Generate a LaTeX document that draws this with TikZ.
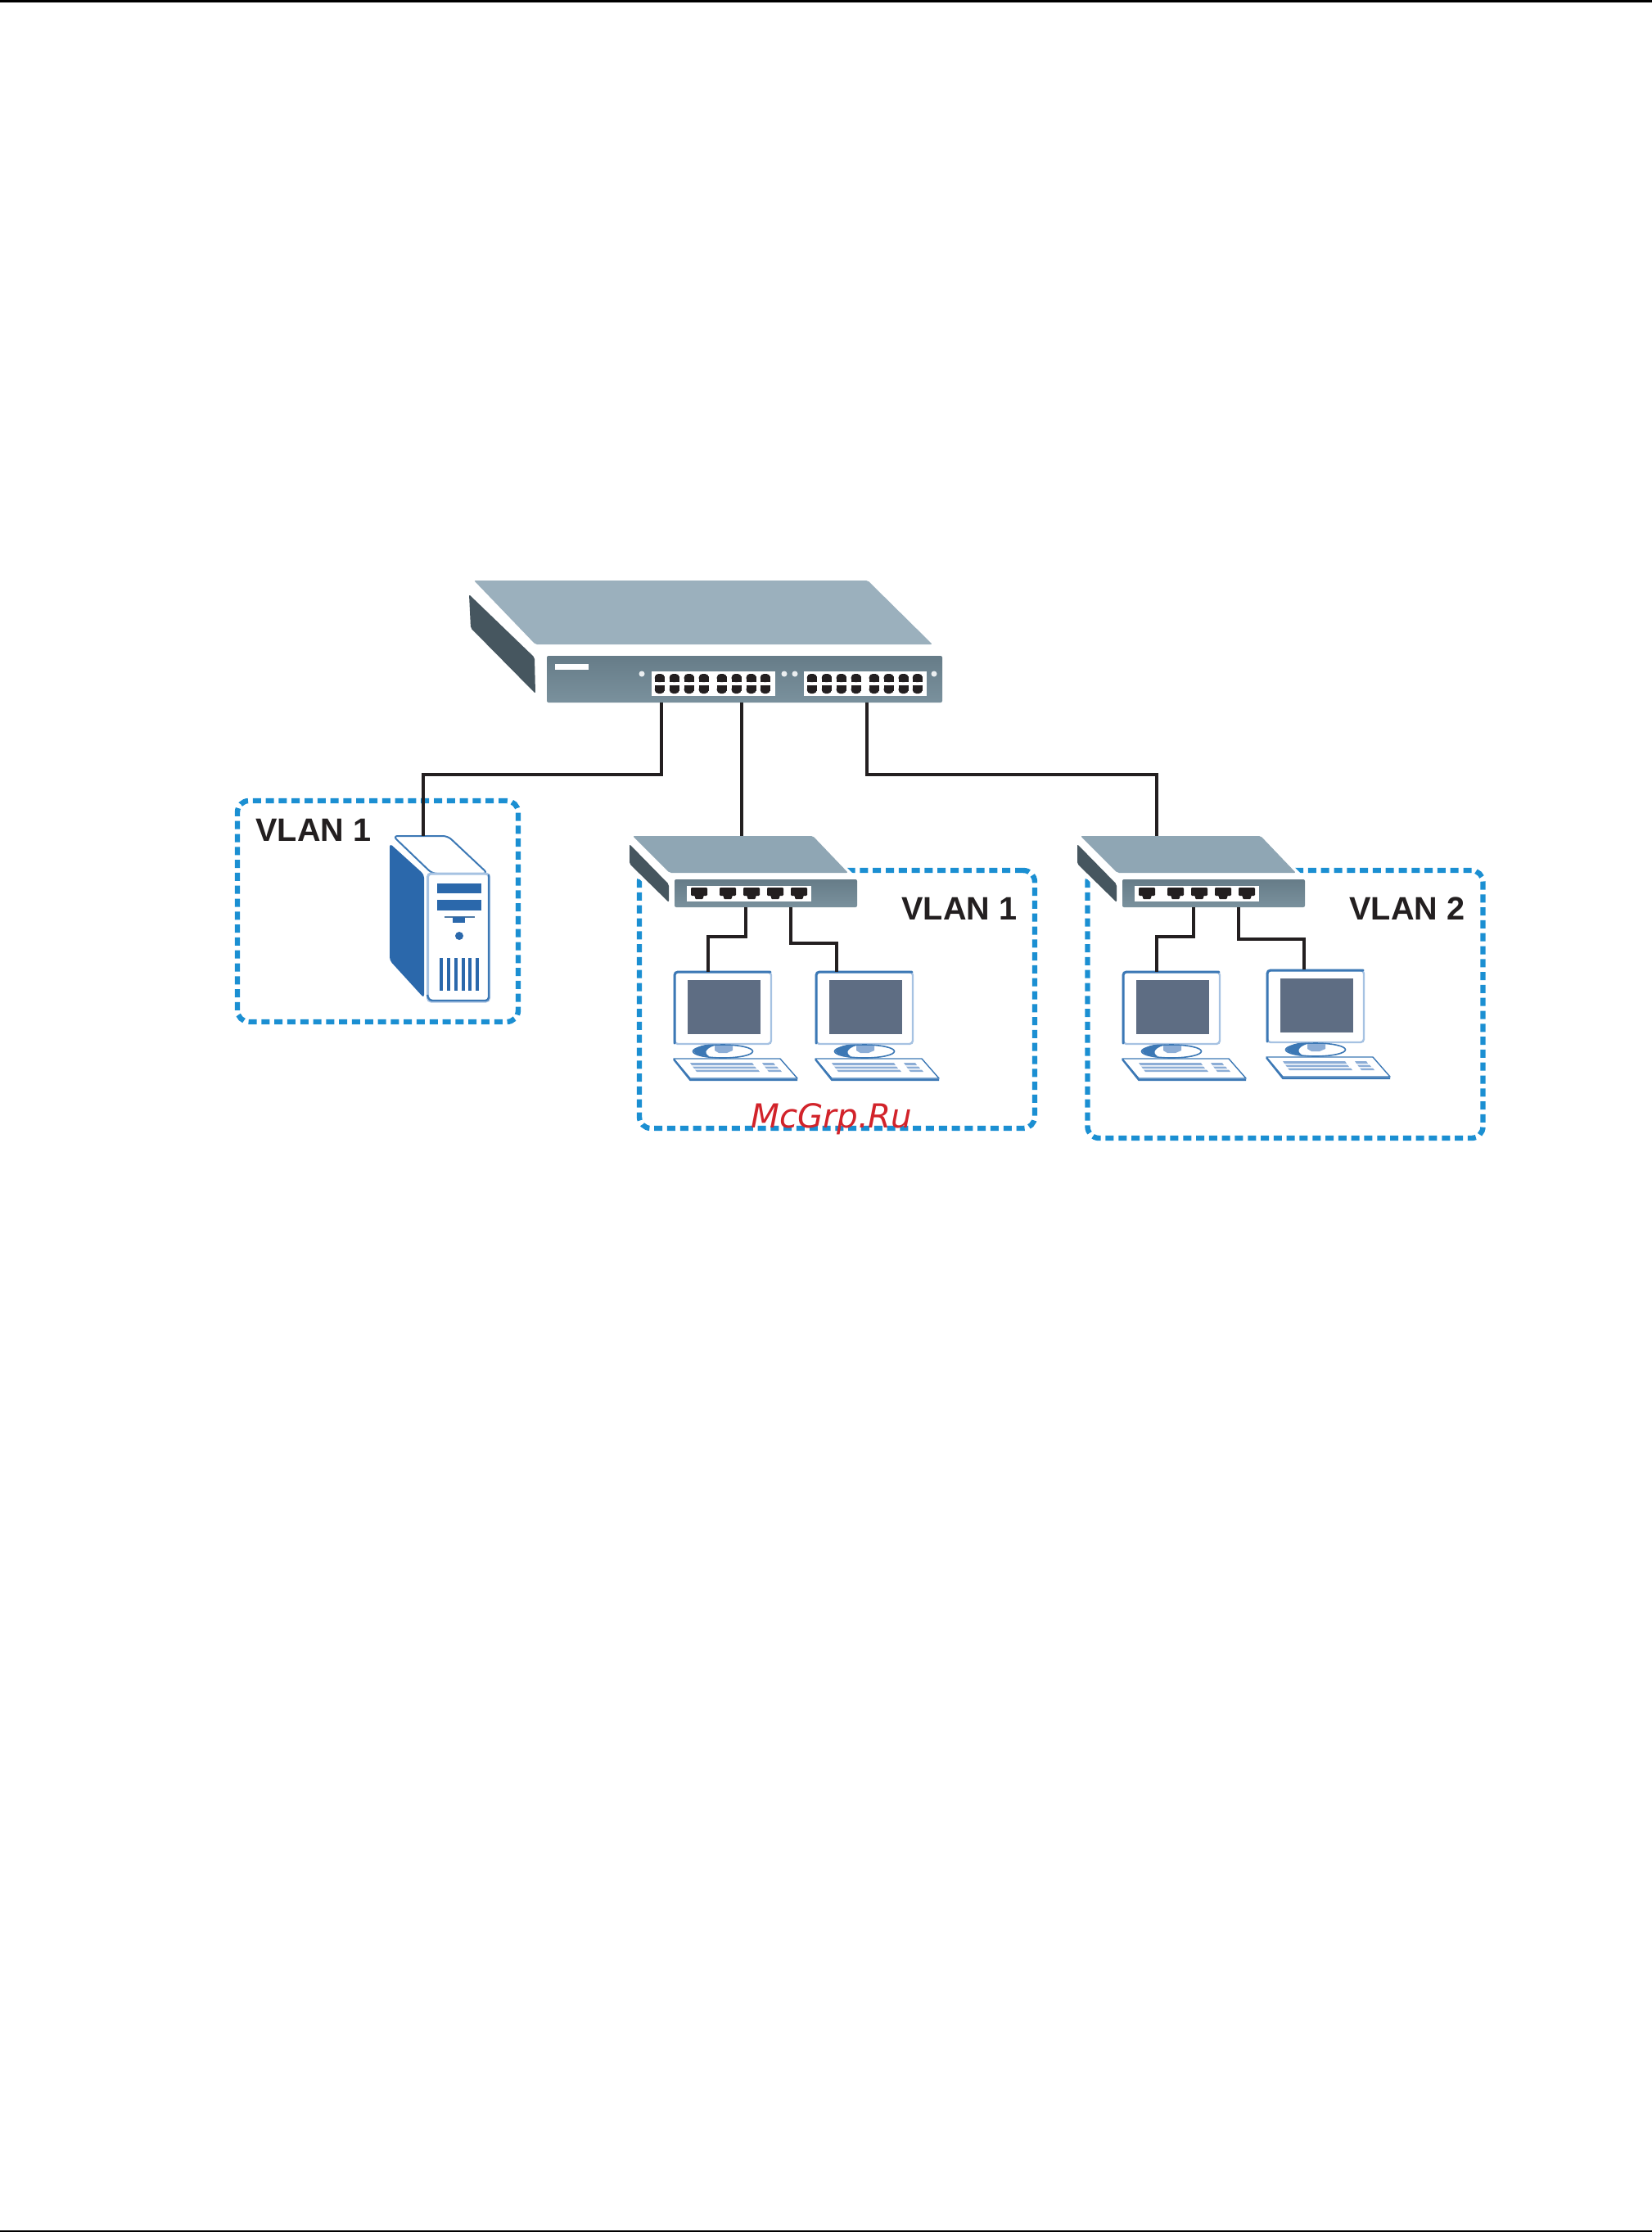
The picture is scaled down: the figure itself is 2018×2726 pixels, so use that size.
\documentclass[tikz,border=0pt]{standalone}
\usepackage{fontspec}
\setmainfont{Liberation Sans}
\newfontfamily\wmfont{DejaVu Sans}
\definecolor{vlanblue}{HTML}{1B8FD2}
\definecolor{topface}{HTML}{9BB0BD}
\definecolor{smalltop}{HTML}{8FA6B4}
\definecolor{darkside}{HTML}{46565F}
\definecolor{frontA}{HTML}{667C88}
\definecolor{frontB}{HTML}{7A919D}
\definecolor{ink}{HTML}{231F20}
\definecolor{srvblue}{HTML}{2B68AB}
\definecolor{lineblue}{HTML}{3C78B5}
\definecolor{paleblue}{HTML}{A6C2E2}
\definecolor{keyblue}{HTML}{8CADD6}
\definecolor{screen}{HTML}{5E6D83}
\definecolor{mark}{HTML}{D2232A}
\tikzset{
  vlanbox/.style={draw=vlanblue,line width=3.2pt,dash pattern=on 5pt off 2.9pt,rounded corners=7pt,inner sep=0pt,outer sep=0pt},
  wire/.style={draw=ink,line width=2.2pt},
  fronta/.style={top color=frontA,bottom color=frontB,rounded corners=1pt,inner sep=0pt,outer sep=0pt},
  panel/.style={fill=white,inner sep=0pt,outer sep=0pt},
  vlantext/.style={font=\fontsize{19.8}{22}\selectfont\bfseries,text=ink,inner sep=0pt,anchor=base west},
  wmtext/.style={font=\wmfont\itshape\fontsize{20.2}{24}\selectfont,text=mark,inner sep=0pt,anchor=base west},
  monframe/.style={fill=white,draw=paleblue,line width=1.2pt,rounded corners=2pt,inner sep=0pt,outer sep=0pt},
  rulebar/.style={fill=black},
}
% small switch: #1 = x offset, #2 = node name
\newcommand{\smallswitch}[2]{%
  \begin{scope}[shift={(#1,0)}]
    \fill[white] (766,1019) -- (993,1019) -- (1040,1066) -- (1050,1072) -- (1050,1112) -- (820,1112) -- (766,1060) -- cycle;
    \fill[smalltop,rounded corners=1pt] (772,1021) -- (992,1021) -- (1035,1066) -- (817,1066) -- cycle;
    \fill[darkside,rounded corners=1pt] (768,1031) -- (816,1080) -- (816,1102) -- (768,1055) -- cycle;
    \node[fronta,minimum width=111.5pt,minimum height=17pt] (#2) at (934.5,1091) {};
    \node[panel,minimum width=76pt,minimum height=9.5pt] (#2p) at (914,1091.5) {};
    \foreach \x in {853,888,917,946,975}
      \fill[ink,rounded corners=0.6pt] (\x-10,1084) -- (\x+10,1084) -- (\x+10,1094) -- (\x+5,1094) -- (\x+5,1098) -- (\x-5,1098) -- (\x-5,1094) -- (\x-10,1094) -- cycle;
  \end{scope}}
% monitor and keyboard: #1 dx, #2 dy, #3 node name
\newcommand{\deskpc}[3]{%
  \begin{scope}[shift={(#1,#2)}]
    \node[monframe,minimum width=59pt,minimum height=44pt] (#3) at (883,1231) {};
    \draw[lineblue,line width=1.5pt,line cap=round,rounded corners=2pt] (824,1274) -- (824,1187) -- (941,1187);
    \fill[screen] (840,1197) rectangle (929,1263);
    \fill[white] (883,1284) ellipse [x radius=37,y radius=8.5];
    \draw[lineblue,line width=0.8pt] (883,1284) ellipse [x radius=36.5,y radius=8];
    \fill[lineblue] (847,1284) .. controls (853,1275) and (868,1275) .. (876,1276) .. controls (864,1279) and (858,1285) .. (866,1290) .. controls (857,1290) and (850,1288) .. (847,1284) -- cycle;
    \fill[keyblue] (873,1277) -- (895,1277) -- (895,1283) -- (888,1286) -- (878,1286) -- (873,1283) -- cycle;
    \fill[paleblue] (823,1295) -- (843,1319) -- (974,1319) -- (974,1317) -- (843,1317) -- cycle;
    \fill[white,draw=lineblue,line width=0.7pt,line join=round] (823,1293) -- (953,1293) -- (974,1317) -- (843,1317) -- cycle;
    \draw[lineblue,line width=1pt] (823,1294) -- (843,1319) -- (974,1319);
    \fill[keyblue] (843,1298) -- (919,1298) -- (921,1301) -- (845,1301) -- cycle;
    \fill[keyblue] (846,1302.5) -- (922,1302.5) -- (924,1305) -- (848,1305) -- cycle;
    \fill[keyblue] (849,1306.5) -- (926,1306.5) -- (928,1309) -- (851,1309) -- cycle;
    \fill[keyblue] (931,1298) -- (945,1298) -- (947,1301) -- (933,1301) -- cycle;
    \fill[keyblue] (934,1302.5) -- (949,1302.5) -- (951,1305) -- (936,1305) -- cycle;
    \fill[keyblue] (937,1306.5) -- (953,1306.5) -- (955,1309) -- (939,1309) -- cycle;
  \end{scope}}
\begin{document}
\begin{tikzpicture}[x=0.5pt,y=-0.5pt]
\useasboundingbox (0,0) rectangle (2018,2726);
\fill[white] (0,0) rectangle (2018,2726);
\fill[rulebar] (0,0) rectangle (2018,2.5);
\fill[rulebar] (0,2723.5) rectangle (2018,2726);

% VLAN boxes
\node[vlanbox,minimum width=171.5pt,minimum height=135pt] (boxa) at (461.5,1113) {};
\node[vlanbox,minimum width=241.5pt,minimum height=157.5pt] (boxb) at (1022.5,1220.5) {};
\node[vlanbox,minimum width=241.5pt,minimum height=163.5pt] (boxc) at (1570,1226.5) {};

% main switch
\fill[topface,rounded corners=1pt] (579,709) -- (1060,709) -- (1139,787) -- (654,787) -- cycle;
\fill[darkside,rounded corners=1pt] (573,726) -- (653,803) -- (654,847) -- (575,767) -- cycle;
\node[fronta,minimum width=241.5pt,minimum height=28.5pt] (mainsw) at (909.5,829.5) {};
\fill[white] (678,811) rectangle (719,818);
\node[panel,minimum width=75.5pt,minimum height=15pt] (pa) at (871.5,835) {};
\node[panel,minimum width=75pt,minimum height=15pt] (pb) at (1057,835) {};
\foreach \x in {784,958,971,1141} \fill[white!85!frontB] (\x,823) circle [radius=3.5];
\foreach \o in {796,982}
  \foreach \d in {9.8,27.8,45.7,63.7,85.7,103.6,121.6,138.8} {
    \fill[ink,rounded corners=2.2pt] (\o+\d-6,833) -- (\o+\d-6,823) -- (\o+\d+6,823) -- (\o+\d+6,833) -- cycle;
    \fill[ink] (\o+\d-6,826) rectangle (\o+\d+6,833);
    \fill[ink,rounded corners=2.2pt] (\o+\d-6,837) -- (\o+\d-6,847) -- (\o+\d+6,847) -- (\o+\d+6,837) -- cycle;
    \fill[ink] (\o+\d-6,837) rectangle (\o+\d+6,844);
  }

% server
\fill[srvblue,rounded corners=2pt] (476,1030) -- (518,1068) -- (518,1219) -- (476,1173) -- cycle;
\draw[lineblue,fill=white,line width=1pt,line join=round,rounded corners=3pt] (480,1021) -- (547,1021) -- (596,1067) -- (528,1067) -- cycle;
\node[draw=paleblue,fill=white,line width=1.5pt,rounded corners=2pt,inner sep=0pt,outer sep=0pt,minimum width=37.5pt,minimum height=78pt] (srv) at (560,1145) {};
\draw[lineblue,line width=1.2pt,rounded corners=2pt] (597,1068) -- (597,1222) -- (524,1222) -- (522,1215);
\fill[srvblue] (534,1079) rectangle (588,1091);
\fill[srvblue] (534,1099) rectangle (588,1112);
\draw[lineblue!70!gray,line width=0.8pt] (543,1120) -- (580,1120);
\fill[srvblue] (553,1120) rectangle (568,1127);
\fill[srvblue] (561,1143) circle [radius=5];
\foreach \x in {539,548,557,566,574,583} \draw[srvblue,line width=1.6pt] (\x,1170) -- (\x,1210);

% edge switches
\smallswitch{1}{swa}
\smallswitch{548}{swb}

% desktop computers
\deskpc{0}{0}{pca}
\deskpc{173}{0}{pcb}
\deskpc{548}{0}{pcc}
\deskpc{724}{-2}{pcd}

% connector ends
\coordinate (m1) at (808,858);
\coordinate (m2) at (906,858);
\coordinate (m3) at (1059,858);
\coordinate (srvtop) at (517,1021);
\coordinate (swatop) at (906,1021);
\coordinate (swbtop) at (1413,1021);
\coordinate (bend1) at (517,946);
\coordinate (bend3) at (1413,946);
\coordinate (a1) at (911,1108);
\coordinate (a2) at (966,1108);
\coordinate (aL) at (865,1144);
\coordinate (aR) at (1022,1152);
\coordinate (a1top) at (865,1187);
\coordinate (a2top) at (1022,1187);
\coordinate (b1) at (1458,1108);
\coordinate (b2) at (1513,1108);
\coordinate (bL) at (1413,1144);
\coordinate (bR) at (1593,1147);
\coordinate (b1top) at (1413,1187);
\coordinate (b2top) at (1593,1184);

% connectors
\draw[wire] (m1) |- (bend1) -- (srvtop);
\draw[wire] (m2) -- (swatop);
\draw[wire] (m3) |- (bend3) -- (swbtop);
\draw[wire] (a1) |- (aL) -- (a1top);
\draw[wire] (a2) |- (aR) -- (a2top);
\draw[wire] (b1) |- (bL) -- (b1top);
\draw[wire] (b2) |- (bR) -- (b2top);

% labels
\node[vlantext] (la) at (312,1027) {VLAN 1};
\node[vlantext] (lb) at (1101,1123) {VLAN 1};
\node[vlantext] (lc) at (1648,1123) {VLAN 2};
\node[wmtext] (wm) at (917,1377) {McGrp.Ru};
\end{tikzpicture}
\end{document}
